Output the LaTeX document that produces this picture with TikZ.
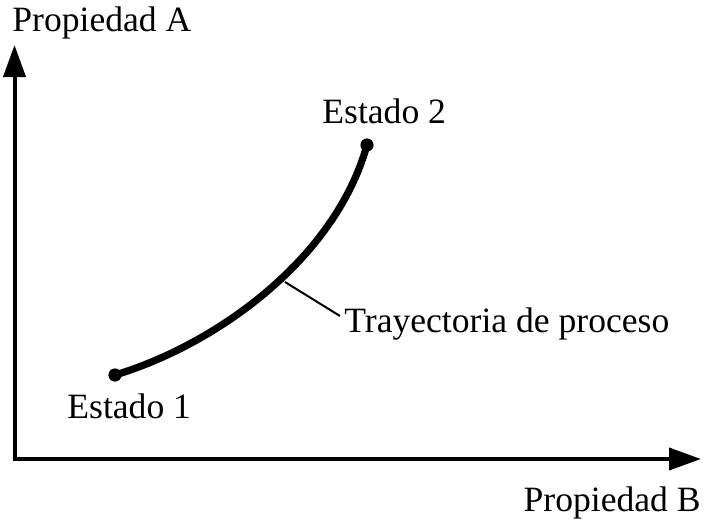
\documentclass[tikz,border=0pt]{standalone}
\usepackage{fontspec}
\setmainfont{Liberation Serif}
\usetikzlibrary{arrows.meta}
\begin{document}
\begin{tikzpicture}[x=0.5pt,y=-0.5pt,
  lbl/.style={inner sep=0pt,font=\fontsize{17.8pt}{20pt}\selectfont},
  axis/.style={line width=2pt,{Triangle[length=16pt,width=11pt]}-{Triangle[length=16pt,width=11pt]}},
  proc/.style={line width=3.6pt,line cap=round},
  leader/.style={line width=1pt},
  statedot/.style={circle,fill=black,inner sep=0pt,minimum size=6.6pt}]
\useasboundingbox (0,0) rectangle (708,526);
\coordinate (ytip) at (14.5,45);
\coordinate (orig) at (14.5,459);
\coordinate (xtip) at (701,459);
\draw[axis,line join=miter] (ytip) -- (orig) -- (xtip);
\node[lbl,anchor=base west] (pa) at (12,31) {Propiedad A};
\node[lbl,anchor=base east] (pb) at (701,511) {Propiedad B};
\node[statedot] (e1) at (115,375) {};
\node[statedot] (e2) at (367,145) {};
\draw[proc] (e1.center) .. controls (215,345) and (335,260) .. (e2.center);
\node[lbl,anchor=base west] (t1) at (67,418) {Estado 1};
\node[lbl,anchor=base west] (t2) at (322,123) {Estado 2};
\node[lbl,anchor=base west] (tp) at (344,332) {Trayectoria de proceso};
\coordinate (lc) at (285,282);
\coordinate (le) at (340,316);
\draw[leader] (lc) -- (le);
\end{tikzpicture}
\end{document}
